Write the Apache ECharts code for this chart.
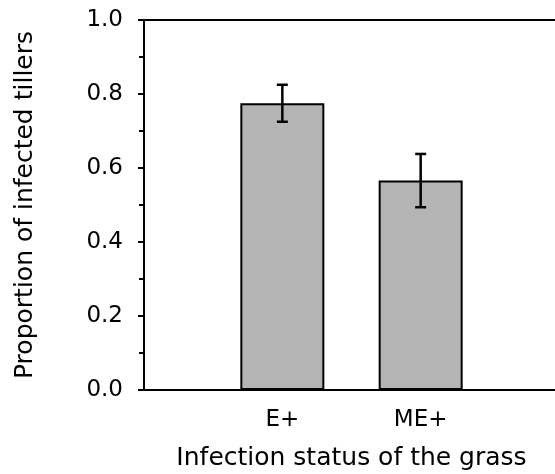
<!DOCTYPE html>
<html>
<head>
<meta charset="utf-8">
<script src="https://cdn.jsdelivr.net/npm/echarts@6/dist/echarts.min.js"></script>
<style>html,body{margin:0;padding:0;background:#fff}#c{width:555px;height:474px}</style>
</head>
<body>
<div id="c"></div>
<script>
const categories = ['', 'E+', 'ME+', ''];
const means = [null, 0.775, 0.566, null];
const errors = [null, 0.05, 0.072, null];
const yTicks = [0, 0.2, 0.4, 0.6, 0.8, 1.0];

const FONT = 'DejaVu Sans, Liberation Sans, Arial, sans-serif';
const chart = echarts.init(document.getElementById('c'), null, {renderer: 'canvas'});
const barData = means.map(v => v === null ? '-' : v);
const errData = [];
means.forEach((m, i) => { if (m !== null) errData.push([i, m - errors[i], m + errors[i]]); });

chart.setOption({
  animation: false,
  backgroundColor: '#fff',
  grid: {left: 144, top: 20, width: 415, height: 370, show: true, borderColor: '#000', borderWidth: 2,
         containLabel: false, outerBoundsMode: 'none'},
  xAxis: {
    type: 'category', data: categories, boundaryGap: false,
    axisLine: {lineStyle: {color: '#000', width: 2}},
    axisTick: {show: false},
    axisLabel: {color: '#000', fontSize: 23, fontFamily: FONT, margin: 19, interval: 0},
    name: 'Infection status of the grass', nameLocation: 'middle', nameGap: 56,
    nameTextStyle: {color: '#000', fontSize: 25, fontFamily: FONT},
    splitLine: {show: false}
  },
  yAxis: {
    type: 'value', min: 0, max: 1, interval: 0.2,
    axisLine: {show: true, lineStyle: {color: '#000', width: 2}},
    axisTick: {show: true, inside: false, length: 6, lineStyle: {color: '#000', width: 2}},
    minorTick: {show: true, splitNumber: 2, length: 5, lineStyle: {color: '#000', width: 2}},
    axisLabel: {color: '#000', fontSize: 23, fontFamily: FONT, margin: 21,
      formatter: v => { const t = yTicks.find(x => Math.abs(x - v) < 1e-9); return (t === undefined ? v : t).toFixed(1); }},
    splitLine: {show: false},
    name: 'Proportion of infected tillers', nameLocation: 'middle', nameGap: 106,
    nameTextStyle: {color: '#000', fontSize: 25, fontFamily: FONT}
  },
  series: [
    {
      type: 'bar', data: barData, barWidth: 84,
      itemStyle: {color: '#b4b4b4', borderColor: '#000', borderWidth: 2}
    },
    {
      type: 'custom', data: errData, z: 10,
      renderItem: function (params, api) {
        const x = api.value(0);
        const lo = api.coord([x, api.value(1)]);
        const hi = api.coord([x, api.value(2)]);
        const hw = 5.5;
        const style = {stroke: '#000', lineWidth: 2.5};
        return {type: 'group', children: [
          {type: 'line', shape: {x1: lo[0], y1: lo[1], x2: hi[0], y2: hi[1]}, style: style},
          {type: 'line', shape: {x1: hi[0] - hw, y1: hi[1], x2: hi[0] + hw, y2: hi[1]}, style: style},
          {type: 'line', shape: {x1: lo[0] - hw, y1: lo[1], x2: lo[0] + hw, y2: lo[1]}, style: style}
        ]};
      }
    }
  ]
});
</script>
</body>
</html>
